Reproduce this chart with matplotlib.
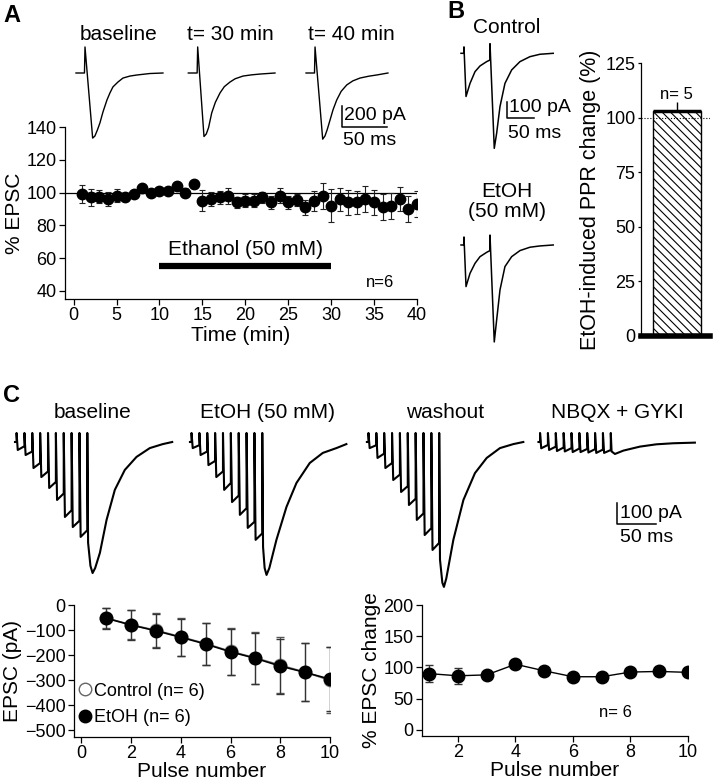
import numpy as np
import matplotlib
matplotlib.use('Agg')
import matplotlib.pyplot as plt
from matplotlib.lines import Line2D

plt.rcParams['font.family'] = ['Liberation Sans', 'DejaVu Sans']
plt.rcParams['hatch.linewidth'] = 0.8

W, H = 714, 784

# ---- A: time course of % EPSC
a_time = list(range(1, 41))
a_epsc = [99, 97, 97.5, 96, 98, 97, 99, 102.5, 100, 101, 101, 104, 100, 105, 95, 96, 97, 98, 94, 95,
          95, 97, 94, 98, 94, 95.5, 91, 95, 98, 92, 96, 94, 94, 96, 94, 91, 92, 96, 90, 93]
a_err = [5.5, 5, 4, 4.5, 4, 2, 2, 1.5, 1.5, 1.5, 2, 2.5, 2.5, 2, 6.5, 4.5, 4, 5, 3.5, 4,
         4, 3.5, 4, 4.5, 4, 3.5, 4.5, 6, 8, 10, 7, 7.5, 7, 8, 7.5, 8, 8, 7.5, 8, 8]
ethanol_on = [10, 30]

# ---- A: example EPSC traces (ms, pA)
a_base_ms = [0, 9.4, 10, 18.5, 21, 23.9, 26.6, 30, 34.4, 37.7, 41, 46.6, 52.2, 60, 67.7, 82, 96.6]
a_base_pa = [0, 0, 248, -620, -600, -540, -475, -370, -257, -190, -133, -86, -48, -29, -19, -5, 0]
a_t30_ms = [0, 9.8, 10.4, 17.4, 20, 22.5, 26, 30, 35.2, 40, 46.3, 52, 60.8, 70, 79.6, 96.3]
a_t30_pa = [0, 0, 248, -605, -580, -520, -380, -280, -190, -130, -86, -55, -29, -18, -10, 0]
a_t40_ms = [0, 9.4, 10, 18.5, 21, 23.5, 26.7, 30, 34.1, 39, 45.2, 52, 60, 70, 78.5, 91]
a_t40_pa = [0, 0, 248, -630, -600, -540, -447, -350, -257, -175, -114, -75, -48, -30, -19, 0]

# ---- B: paired-pulse traces (ms, pA) and PPR bar
b_ms = [0, 5.5, 5.5, 9.3, 16.7, 25.9, 35.2, 47.5, 53.7, 53.7, 61.6, 66, 72.2, 81.4, 93.8, 109.2, 127.7, 146.2, 170.8]
b_ctrl_pa = [0, 0, 40, -270, -188, -115, -79, -52, -42, 60, -594, -500, -333, -188, -104, -52, -21, -6, 0]
b_etoh_pa = [0, 0, 50, -260, -177, -115, -73, -46, -35, 62, -606, -469, -281, -135, -73, -35, -14, -6, 0]
ppr_change = 103
ppr_err = 4

# ---- C: 100 Hz trains (ms, pA)
c_pulse_ms = [2, 12, 22, 32, 42, 52, 62, 72, 82, 92]
c_top = 43
c_base_pre = [0, -20, -45, -100, -140, -190, -245, -325, -375, -420]
c_base_trough = [-38, -62, -124, -167, -219, -276, -357, -405, -452]
c_base_tail_ms = [93, 96, 98.7, 102, 108, 116.5, 127, 139.7, 154.6, 171.5, 188, 200]
c_base_tail_pa = [-480, -590, -624, -600, -528, -371, -228, -133, -71, -29, -10, 0]
c_etoh_pre = [0, -15, -45, -90, -140, -195, -255, -315, -380, -435]
c_etoh_trough = [-29, -62, -110, -167, -228, -286, -347, -409, -466]
c_etoh_tail_ms = [93, 95, 97.4, 101, 110, 122.8, 135.5, 152.4, 169, 186.3, 199]
c_etoh_tail_pa = [-500, -600, -633, -600, -466, -309, -195, -100, -52, -29, -10]
c_wash_pre = [0, -15, -55, -100, -155, -210, -270, -340, -410, -480]
c_wash_trough = [-29, -76, -124, -181, -238, -300, -371, -443, -514]
c_wash_tail_ms = [93, 96, 98, 101, 110, 122.8, 137.5, 152.4, 169.3, 186.3, 199]
c_wash_tail_pa = [-560, -670, -690, -650, -466, -276, -148, -76, -29, -10, 0]
c_nbqx_pre = [0, -14, -22, -26, -29, -31, -33, -34, -36, -38]
c_nbqx_trough = [-30, -38, -43, -45, -48, -48, -50, -52, -52]
c_nbqx_tail_ms = [93, 97.3, 108, 129, 150, 171.5, 199]
c_nbqx_tail_pa = [-45, -57, -41, -22, -11, -6, -3]

# ---- C: summary plots
pulse = list(range(1, 11))
ctrl_mean = [-52, -79, -101, -127, -154, -185, -211, -240, -268, -301]
ctrl_sem = [40, 58, 68, 76, 84, 95, 103, 112, 117, 132]
etoh_mean = [-53, -80, -103, -129, -156, -187, -213, -244, -269, -296]
etoh_sem = [42, 60, 69, 74, 83, 93, 102, 110, 116, 127]
pct_change = [90, 86.5, 88, 105, 94.5, 85, 85, 92.5, 93.5, 92]
pct_sem = [14, 13, 4, 5, 4, 3, 3, 4, 3, 3]


fig = plt.figure(figsize=(W / 100, H / 100), dpi=100)


def box(l, t, r, b):
    return [l / W, 1 - b / H, (r - l) / W, (b - t) / H]


def label(x, y, s, size=15, **kw):
    fig.text(x / W, 1 - y / H, s, fontsize=size, va='baseline', **kw)


def trace_ax(l, t, r, b, ox, oy, ms_px, pa_px):
    ax = fig.add_axes(box(l, t, r, b))
    ax.set_xlim((l - ox) * ms_px, (r - ox) * ms_px)
    ax.set_ylim((oy - b) * pa_px, (oy - t) * pa_px)
    ax.axis('off')
    return ax


def style(ax, lw=0.9):
    for s in ['top', 'right']:
        ax.spines[s].set_visible(False)
    for s in ['left', 'bottom']:
        ax.spines[s].set_linewidth(lw)
    ax.tick_params(direction='out', length=4, width=lw, labelsize=13, pad=2)


def scale_bar(ax, x0, y0, dx, dy):
    ax.plot([x0, x0, x0 + dx], [y0 + dy, y0, y0], color='k', lw=1.1, clip_on=False)


def train(pre, trough, tail_ms, tail_pa):
    xs, ys = [0.0], [0.0]
    for i, t in enumerate(c_pulse_ms):
        xs += [t, t]
        ys += [pre[i], c_top]
        if i < len(trough):
            xs.append(t + 1.5)
            ys.append(trough[i])
    return np.array(xs + tail_ms), np.array(ys + tail_pa)


# ================= A =================
ax = fig.add_axes(box(65, 127, 417, 299))
ax.errorbar(a_time, a_epsc, yerr=a_err, fmt='o', color='k', ms=7.5, ecolor='#222',
            elinewidth=0.8, capsize=2.5, capthick=0.8, zorder=3)
ax.axhline(100, color='k', lw=0.9, zorder=1)
ax.hlines(55, ethanol_on[0], ethanol_on[1], color='k', lw=4.5)
ax.text(20, 62, 'Ethanol (50 mM)', ha='center', va='baseline', fontsize=15)
ax.text(34, 42.5, 'n=6', ha='left', va='baseline', fontsize=12)
ax.set_xlim(-1, 40)
ax.set_ylim(35, 140)
ax.set_xticks(range(0, 41, 5))
ax.set_yticks(range(40, 141, 20))
ax.set_xlabel('Time (min)', fontsize=15, labelpad=1)
ax.set_ylabel('% EPSC', fontsize=15, labelpad=2)
style(ax)

tax = trace_ax(70, 40, 395, 148, 76, 73, 50 / 45, 200 / 21)
for off, ms, pa in [(0, a_base_ms, a_base_pa), (124.8, a_t30_ms, a_t30_pa), (255.6, a_t40_ms, a_t40_pa)]:
    tax.plot(np.array(ms) + off, pa, color='k', lw=1.0, clip_on=False, solid_joinstyle='round')
scale_bar(tax, 295.6, -514, 50, 200)
label(119, 40, 'baseline', ha='center')
label(230, 40, 't= 30 min', ha='center')
label(351, 40, 't= 40 min', ha='center')
label(344, 120, '200 pA', size=14)
label(343, 145, '50 ms', size=14)
label(3, 22, 'A', size=17, weight='bold')

# ================= B =================
bx = fig.add_axes(box(641, 63, 710, 336))
bx.bar(0, ppr_change, width=1, facecolor='white', edgecolor='k', hatch='\\\\\\\\', lw=1, zorder=2)
bx.hlines(ppr_change, -0.5, 0.5, color='k', lw=2.5, zorder=3)
bx.errorbar(0, ppr_change, yerr=[[0], [ppr_err]], fmt='none', ecolor='k', elinewidth=1, capsize=0)
bx.axhline(100, color='k', lw=0.8, ls=':', zorder=4)
bx.text(0, 108.5, 'n= 5', ha='center', va='baseline', fontsize=12)
bx.set_xlim(-0.75, 0.69)
bx.set_ylim(0, 125)
bx.set_yticks(range(0, 126, 25))
bx.set_xticks([])
bx.set_ylabel('EtOH-induced PPR change (%)', fontsize=15.5, labelpad=3)
style(bx)
bx.spines['bottom'].set_linewidth(4)
bx.tick_params(axis='y', length=2)

tbx = trace_ax(455, 35, 560, 350, 461, 53.3, 50 / 27, 100 / 16)
tbx.plot(b_ms, b_ctrl_pa, color='k', lw=1.1, clip_on=False, solid_joinstyle='round')
tbx.plot(b_ms, np.array(b_etoh_pa) - 1198, color='k', lw=1.1, clip_on=False, solid_joinstyle='round')
scale_bar(tbx, 85.2, -404, 50, 100)
label(507, 33, 'Control', ha='center')
label(507, 197, 'EtOH', ha='center')
label(507, 217, '(50 mM)', ha='center')
label(509, 112, '100 pA', size=14)
label(508, 138, '50 ms', size=14)
label(447, 18, 'B', size=17, weight='bold')

# ================= C traces =================
tcx = trace_ax(8, 425, 705, 600, 15, 442, 50 / 39.3, 100 / 21)
traces = [(0, c_base_pre, c_base_trough, c_base_tail_ms, c_base_tail_pa),
          (222.6, c_etoh_pre, c_etoh_trough, c_etoh_tail_ms, c_etoh_tail_pa),
          (447.7, c_wash_pre, c_wash_trough, c_wash_tail_ms, c_wash_tail_pa),
          (666.0, c_nbqx_pre, c_nbqx_trough, c_nbqx_tail_ms, c_nbqx_tail_pa)]
for off, pre, tr, tms, tpa in traces:
    xs, ys = train(pre, tr, tms, tpa)
    tcx.plot(xs + off, ys, color='k', lw=1.5, clip_on=False, solid_joinstyle='round')
scale_bar(tcx, 765.7, -390.5, 50, 100)
label(93, 418, 'baseline', ha='center')
label(268, 418, 'EtOH (50 mM)', ha='center')
label(445, 418, 'washout', ha='center')
label(617, 418, 'NBQX + GYKI', ha='center')
label(620, 518, '100 pA', size=14)
label(620, 542, '50 ms', size=14)
label(3, 402, 'C', size=17, weight='bold')

# ================= C: EPSC amplitude =================
cx = fig.add_axes(box(74, 605, 330, 737))
cx.errorbar(pulse, ctrl_mean, yerr=ctrl_sem, fmt='-o', color='#777', mfc='white', mec='#888',
            ms=9, lw=1.2, elinewidth=0.9, ecolor='#555', capsize=3, zorder=2)
cx.errorbar(pulse, etoh_mean, yerr=etoh_sem, fmt='-o', color='k', ms=9, lw=1.2,
            elinewidth=0.9, ecolor='#333', capsize=3, zorder=3)
handles = [Line2D([], [], ls='none', marker='o', mfc='white', mec='#666', ms=9),
           Line2D([], [], ls='none', marker='o', color='k', ms=9)]
cx.legend(handles, ['Control (n= 6)', 'EtOH (n= 6)'], loc='lower left', frameon=False,
          bbox_to_anchor=(0.02, 0.08), fontsize=13, handlelength=0.6, handletextpad=0.2,
          labelspacing=0.55, borderpad=0, borderaxespad=0)
cx.set_xlim(-0.3, 10)
cx.set_ylim(-527, 0)
cx.set_xticks(range(0, 11, 2))
cx.set_yticks(range(-500, 1, 100))
cx.set_xlabel('Pulse number', fontsize=15, labelpad=0)
cx.set_ylabel('EPSC (pA)', fontsize=15, labelpad=2)
style(cx)

# ================= C: % EPSC change =================
dx = fig.add_axes(box(422, 605, 688, 736))
dx.errorbar(pulse, pct_change, yerr=pct_sem, fmt='-o', color='k', ms=9, lw=1.0,
            elinewidth=0.9, ecolor='#333', capsize=3)
dx.text(6.9, 21, 'n= 6', ha='left', va='baseline', fontsize=12)
dx.set_xlim(0.75, 10)
dx.set_ylim(-10, 200)
dx.set_xticks(range(2, 11, 2))
dx.set_yticks(range(0, 201, 50))
dx.set_xlabel('Pulse number', fontsize=15, labelpad=0)
dx.set_ylabel('% EPSC change', fontsize=15, labelpad=2)
style(dx)

fig.savefig('out.png', dpi=100)
